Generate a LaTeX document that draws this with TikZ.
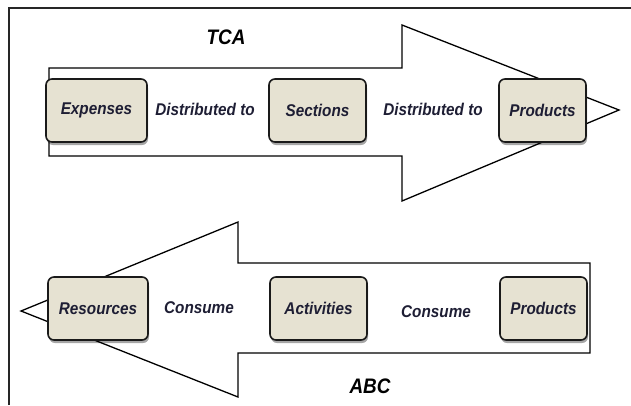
\documentclass[tikz,border=0pt]{standalone}
\usepackage{fontspec}
\setmainfont[FakeStretch=0.9]{Liberation Sans}
\usetikzlibrary{shadows}
\definecolor{boxfill}{HTML}{E6E2D2}
\definecolor{txt}{HTML}{1E1E34}
\definecolor{edge}{HTML}{1A1A1A}
\begin{document}
\begin{tikzpicture}[x=1pt,y=-1pt,
  box/.style={draw=edge, line width=1.6pt, fill=boxfill, rounded corners=6pt,
    minimum height=63pt, inner sep=0pt, text=txt,
    font=\fontsize{17}{20}\selectfont\bfseries\itshape,
    drop shadow={shadow xshift=1pt, shadow yshift=-3pt, opacity=0.35, fill=black}},
  lbl/.style={text=txt, inner sep=0pt, font=\fontsize{17}{20}\selectfont\bfseries\itshape},
  ttl/.style={text=black, inner sep=0pt, font=\fontsize{21}{24}\selectfont\bfseries\itshape},
  outline/.style={draw=black, line width=1.3pt, line join=miter},
  frame/.style={draw=black!85, line width=1.5pt}]
\useasboundingbox (0,0) rectangle (631,405);
% frame
\draw[frame] (9,405) -- (9,8) -- (631,8);
% arrows
\draw[outline] (49,68) -- (402,68) -- (402,25) -- (619,110) -- (402,201) -- (402,156) -- (49,156) -- cycle;
\draw[outline] (590,263) -- (238,263) -- (238,222) -- (21,311) -- (238,397) -- (238,353) -- (590,353) -- cycle;
% titles
\node[ttl] (tca) at (226,37) {TCA};
\node[ttl] (abc) at (370,386) {ABC};
% top row
\node[box, minimum width=101pt] (exp) at (96.5,110.5) {Expenses};
\node[box, minimum width=97pt] (sec) at (317.5,110.5) {Sections};
\node[box, minimum width=87pt] (prod1) at (542.5,110.5) {Products};
\node[lbl] (d1) at (205,109) {Distributed to};
\node[lbl] (d2) at (433,109) {Distributed to};
% bottom row
\node[box, minimum width=100pt] (res) at (98,308.5) {Resources};
\node[box, minimum width=97pt] (act) at (318.5,308.5) {Activities};
\node[box, minimum width=87pt] (prod2) at (543.5,308.5) {Products};
\node[lbl] (c1) at (199,308) {Consume};
\node[lbl] (c2) at (436,312) {Consume};
\end{tikzpicture}
\end{document}
